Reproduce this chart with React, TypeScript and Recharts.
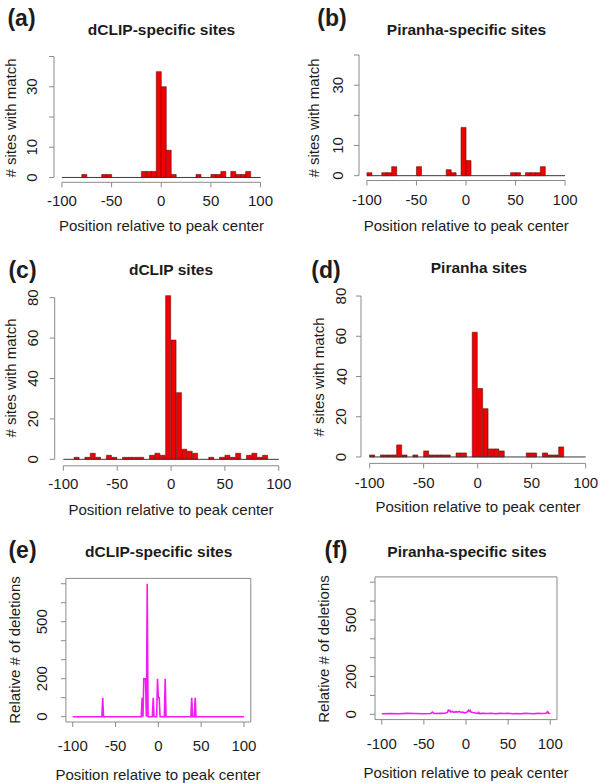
import React from "react";
import { BarChart, Bar, LineChart, Line, XAxis, YAxis, ReferenceLine, ReferenceArea } from "recharts";

// histogram bins, width 5, from -100 to 100 (mid points)
const binMids = [
  -97.5, -92.5, -87.5, -82.5, -77.5, -72.5, -67.5, -62.5, -57.5, -52.5,
  -47.5, -42.5, -37.5, -32.5, -27.5, -22.5, -17.5, -12.5, -7.5, -2.5,
  2.5, 7.5, 12.5, 17.5, 22.5, 27.5, 32.5, 37.5, 42.5, 47.5,
  52.5, 57.5, 62.5, 67.5, 72.5, 77.5, 82.5, 87.5, 92.5, 97.5,
];

// (a) dCLIP-specific sites
const countsA = [
  0, 0, 0, 0, 1, 0, 0, 0, 1, 1,
  0, 0, 0, 0, 0, 0, 2, 2, 2, 35,
  30, 9, 1, 0, 0, 0, 0, 1, 0, 0,
  1, 1, 2, 0, 2, 1, 1, 2, 0, 0,
];
// (b) Piranha-specific sites
const countsB = [
  1, 0, 0, 1, 1, 3, 0, 0, 0, 0,
  3, 0, 0, 0, 0, 0, 2, 1, 0, 16,
  5, 0, 0, 0, 0, 0, 0, 0, 0, 1,
  1, 0, 1, 1, 1, 3, 0, 0, 0, 0,
];
// (c) dCLIP sites
const countsC = [
  0, 0, 1, 0, 1, 3, 1, 0, 2, 1,
  0, 1, 1, 1, 1, 0, 2, 3, 2, 81,
  59, 33, 5, 4, 3, 0, 0, 1, 0, 1,
  2, 1, 3, 0, 2, 3, 1, 2, 0, 0,
];
// (d) Piranha sites
const countsD = [
  1, 0, 1, 1, 1, 6, 1, 0, 1, 0,
  3, 1, 1, 1, 1, 0, 2, 2, 0, 62,
  34, 24, 4, 4, 3, 0, 0, 0, 0, 2,
  2, 0, 2, 1, 1, 5, 0, 0, 0, 0,
];

// (e) relative # of deletions, dCLIP-specific
const ePos = [-100, -66, -65, -64, -20, -19, -18, -17, -16, -15, -14, -13, -12, -7, -6, -5, -2, -1, 0, 1, 2, 7, 8, 9, 38, 39, 40, 42, 43, 44, 100];
const eVal = [0, 0, 100, 0, 0, 100, 0, 200, 200, 200, 0, 700, 0, 0, 100, 0, 0, 200, 100, 100, 0, 0, 200, 0, 0, 100, 0, 0, 100, 0, 0];

// (f) relative # of deletions, Piranha-specific
const fPos = [-100, -90, -80, -70, -60, -50, -42, -40, -38, -30, -25, -22, -21, -20, -19, -18, -16, -14, -12, -10, -8, -6, -4, -2, 0, 2, 3, 4, 5, 6, 8, 10, 12, 14, 15, 16, 20, 25, 30, 35, 40, 45, 50, 55, 60, 65, 70, 75, 80, 85, 90, 95, 96, 97, 98, 100];
const fVal = [3, 4, 3, 5, 4, 3, 4, 12, 4, 5, 6, 10, 22, 18, 20, 12, 15, 10, 14, 12, 16, 10, 12, 8, 10, 14, 22, 16, 20, 12, 10, 8, 6, 5, 10, 4, 5, 4, 6, 3, 5, 4, 6, 3, 4, 3, 5, 4, 3, 5, 4, 6, 10, 14, 6, 4];

const xTicks = [-100, -50, 0, 50, 100];
const ticks40 = [0, 10, 20, 30, 40];
const labels40 = [0, 10, 30];
const ticks80 = [0, 20, 40, 60, 80];
const ticks700 = [0, 100, 200, 300, 400, 500, 600, 700];
const labels700 = [0, 200, 500];

const PAGE_W = 600;
const PAGE_H = 783;
const FONT = "'Liberation Sans', Arial, Helvetica, sans-serif";
const AXIS = "#8a8a8a";
const INK = "#1c1c1c";

type Box = { l: number; r: number; t: number; b: number };

const Txt = ({ x, y, size, bold, rot, children }: any) => (
  <div
    style={{
      position: "absolute",
      left: x,
      top: y,
      transform: `translate(-50%, -50%)${rot ? " rotate(-90deg)" : ""}`,
      fontFamily: FONT,
      fontSize: size,
      fontWeight: bold ? "bold" : "normal",
      color: INK,
      whiteSpace: "nowrap",
      lineHeight: 1,
    }}
  >
    {children}
  </div>
);

const xTick = (off: number) => (p: any) => (
  <text x={p.x} y={p.y - 7 + off} textAnchor="middle" dominantBaseline="central" fontFamily={FONT} fontSize={15} fill={INK}>
    {p.payload.value}
  </text>
);

const yTick = (off: number, shown: number[]) => (p: any) => {
  if (!shown.includes(p.payload.value)) return <g />;
  const cx = p.x + 7 - off;
  return (
    <text x={cx} y={p.y} textAnchor="middle" dominantBaseline="central" fontFamily={FONT} fontSize={15} fill={INK} transform={`rotate(-90, ${cx}, ${p.y})`}>
      {p.payload.value}
    </text>
  );
};

const margins = (box: Box) => ({
  left: box.l - 20,
  right: PAGE_W - box.r,
  top: box.t,
  bottom: PAGE_H - box.b - 20,
});

const layer: React.CSSProperties = { position: "absolute", left: 0, top: 0 };

const Hist = ({ box, counts, yTop, yTicks, yLabels, xOff, yOff }: any) => {
  const data = binMids.map((m, i) => ({ pos: m, n: counts[i] }));
  const pad = yTop * 0.04;
  return (
    <div style={layer}>
      <BarChart width={PAGE_W} height={PAGE_H} data={data} margin={margins(box)} barCategoryGap={0} barGap={0}>
        <XAxis dataKey="pos" type="number" domain={[-108, 108]} ticks={xTicks} interval={0} allowDataOverflow height={20}
          axisLine={false} tickLine={{ stroke: AXIS }} tickSize={5} tick={xTick(xOff)} />
        <YAxis type="number" domain={[-pad, yTop + pad]} ticks={yTicks} interval={0} allowDataOverflow width={20}
          axisLine={false} tickLine={{ stroke: AXIS }} tickSize={5} tick={yTick(yOff, yLabels)} />
        <ReferenceLine segment={[{ x: -100, y: -pad }, { x: 100, y: -pad }]} stroke={AXIS} ifOverflow="visible" />
        <ReferenceLine segment={[{ x: -108, y: 0 }, { x: -108, y: yTop }]} stroke={AXIS} ifOverflow="visible" />
        <Bar dataKey="n" fill="#f00000" stroke="#6a0a0a" strokeWidth={0.6} isAnimationActive={false} />
        <ReferenceLine segment={[{ x: -100, y: 0 }, { x: 100, y: 0 }]} stroke="#3a3a3a" ifOverflow="visible" />
      </BarChart>
    </div>
  );
};

const Deletions = ({ box, pos, vals, xOff, yOff }: any) => {
  const data = pos.map((p: number, i: number) => ({ pos: p, v: vals[i] }));
  return (
    <div style={layer}>
      <LineChart width={PAGE_W} height={PAGE_H} data={data} margin={margins(box)}>
        <XAxis dataKey="pos" type="number" domain={[-108, 108]} ticks={xTicks} interval={0} allowDataOverflow height={20}
          axisLine={false} tickLine={{ stroke: AXIS }} tickSize={5} tick={xTick(xOff)} />
        <YAxis type="number" domain={[-28, 728]} ticks={ticks700} interval={0} allowDataOverflow width={20}
          axisLine={false} tickLine={{ stroke: AXIS }} tickSize={5} tick={yTick(yOff, labels700)} />
        <ReferenceArea x1={-108} x2={108} y1={-28} y2={728} fill="none" stroke={AXIS} ifOverflow="visible" />
        <Line dataKey="v" type="linear" stroke="#f21cf2" strokeWidth={1.6} dot={false} isAnimationActive={false} />
      </LineChart>
    </div>
  );
};

const boxA: Box = { l: 54, r: 268.5, t: 51.7, b: 182.3 };
const boxB: Box = { l: 359, r: 573, t: 50.2, b: 180.5 };
const boxC: Box = { l: 54.7, r: 287.4, t: 291.2, b: 465.8 };
const boxD: Box = { l: 361, r: 594.3, t: 289.6, b: 463.4 };
const boxE: Box = { l: 65.9, r: 250.8, t: 578.4, b: 722 };
const boxF: Box = { l: 375, r: 557, t: 576.9, b: 719.6 };

const xTitle = "Position relative to peak center";

export default function App() {
  return (
    <div style={{ position: "absolute", left: 0, top: 0, width: PAGE_W, height: PAGE_H, background: "#fff", overflow: "hidden" }}>
      <Hist box={boxA} counts={countsA} yTop={40} yTicks={ticks40} yLabels={labels40} xOff={18} yOff={22} />
      <Hist box={boxB} counts={countsB} yTop={40} yTicks={ticks40} yLabels={labels40} xOff={18.5} yOff={21} />
      <Hist box={boxC} counts={countsC} yTop={80} yTicks={ticks80} yLabels={ticks80} xOff={17.5} yOff={22} />
      <Hist box={boxD} counts={countsD} yTop={80} yTicks={ticks80} yLabels={ticks80} xOff={19.5} yOff={20} />
      <Deletions box={boxE} pos={ePos} vals={eVal} xOff={23.5} yOff={24} />
      <Deletions box={boxF} pos={fPos} vals={fVal} xOff={23.5} yOff={24} />

      <Txt x={21.5} y={17.5} size={23} bold>(a)</Txt>
      <Txt x={332} y={17.5} size={23} bold>(b)</Txt>
      <Txt x={22.5} y={269.5} size={23} bold>(c)</Txt>
      <Txt x={326} y={270} size={23} bold>(d)</Txt>
      <Txt x={22.5} y={550} size={23} bold>(e)</Txt>
      <Txt x={336} y={550} size={23} bold>(f)</Txt>

      <Txt x={161.5} y={30} size={15.5} bold>dCLIP-specific sites</Txt>
      <Txt x={466.5} y={30} size={15.5} bold>Piranha-specific sites</Txt>
      <Txt x={171} y={270} size={15.5} bold>dCLIP sites</Txt>
      <Txt x={479} y={268} size={15.5} bold>Piranha sites</Txt>
      <Txt x={158.7} y={551.7} size={15.5} bold>dCLIP-specific sites</Txt>
      <Txt x={467} y={551.7} size={15.5} bold>Piranha-specific sites</Txt>

      <Txt x={10} y={118} size={15} rot># sites with match</Txt>
      <Txt x={313} y={117.5} size={15} rot># sites with match</Txt>
      <Txt x={10} y={378} size={15} rot># sites with match</Txt>
      <Txt x={318} y={377} size={15} rot># sites with match</Txt>
      <Txt x={14} y={650} size={15} rot>Relative # of deletions</Txt>
      <Txt x={323} y={649} size={15} rot>Relative # of deletions</Txt>

      <Txt x={161.5} y={225} size={15}>{xTitle}</Txt>
      <Txt x={466.3} y={225} size={15}>{xTitle}</Txt>
      <Txt x={171} y={509} size={15}>{xTitle}</Txt>
      <Txt x={478} y={505.7} size={15}>{xTitle}</Txt>
      <Txt x={158} y={774} size={15}>{xTitle}</Txt>
      <Txt x={466} y={771.7} size={15}>{xTitle}</Txt>
    </div>
  );
}
